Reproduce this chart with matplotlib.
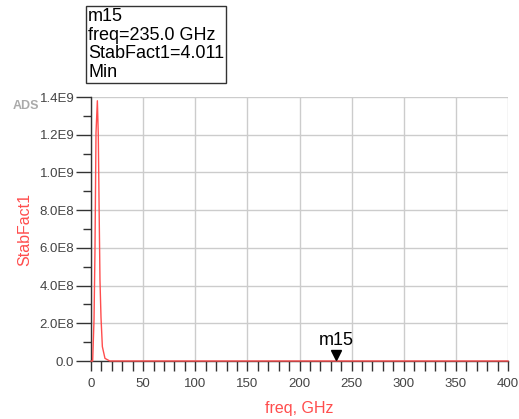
import matplotlib.pyplot as plt
import matplotlib.transforms as mtransforms
from matplotlib.ticker import MultipleLocator

# StabFact1 over frequency
freq = [0, 1.6, 2.9, 3.8, 4.8, 6.1, 7.0, 7.7, 8.6, 9.6, 10.9, 13.4, 18.0, 50, 100, 150, 200, 235, 300, 350, 400]
stab = [0, 0.0, 2.2e8, 5.8e8, 1.21e9, 1.38e9, 1.20e9, 8.5e8, 4.3e8, 2.3e8, 7.6e7, 1.4e7, 0.0,
        20, 10, 7, 5, 4.011, 4.5, 5, 5.5]

y_ticks = [0, 2e8, 4e8, 6e8, 8e8, 1.0e9, 1.2e9, 1.4e9]
y_labels = ['0.0', '2.0E8', '4.0E8', '6.0E8', '8.0E8', '1.0E9', '1.2E9', '1.4E9']
x_ticks = [0, 50, 100, 150, 200, 250, 300, 350, 400]

marker_name = 'm15'
marker_freq = 235.0
marker_val = 4.011

plt.rcParams['font.family'] = ['Liberation Sans', 'DejaVu Sans']

fig = plt.figure(figsize=(5.19, 4.19), dpi=100)
ax = fig.add_axes([91/519, 1 - 361/419, 417/519, 264/419])

ax.plot(freq, stab, color='#ff4d4d', lw=1.0, clip_on=False, zorder=3)

ax.set_xlim(0, 400)
ax.set_ylim(0, 1.4e9)
ax.set_xticks(x_ticks)
ax.set_xticklabels([str(t) for t in x_ticks])
ax.set_yticks(y_ticks)
ax.set_yticklabels(y_labels)
ax.xaxis.set_minor_locator(MultipleLocator(10))
ax.yaxis.set_minor_locator(MultipleLocator(1e8))

ax.grid(True, which='major', color='#cccccc', lw=1.0)
for s in ['top', 'right']:
    ax.spines[s].set_visible(False)
for s in ['left', 'bottom']:
    ax.spines[s].set_color('#333333')
    ax.spines[s].set_linewidth(1.0)

ax.tick_params(axis='both', which='both', direction='out', color='#333333', width=1.0,
               labelcolor='#444444', labelsize=9.5)
ax.tick_params(axis='y', which='major', length=11, pad=1)
ax.tick_params(axis='y', which='minor', length=6)
ax.tick_params(axis='x', which='major', length=7, pad=5)
ax.tick_params(axis='x', which='minor', length=7)

ax.set_ylabel('StabFact1', color='#ff4d4d', fontsize=11.5, labelpad=5)
ax.set_xlabel('freq, GHz', color='#ff4d4d', fontsize=11.5, labelpad=8)

# marker triangle and name
shift = mtransforms.ScaledTranslation(0, 6/100, fig.dpi_scale_trans)
ax.plot([marker_freq], [marker_val], marker='v', color='black', markersize=7,
        transform=ax.transData + shift, zorder=4, clip_on=False)
ax.annotate(marker_name, (marker_freq, 0), xytext=(0, 9), textcoords='offset points',
            ha='center', va='bottom', fontsize=13, color='black')

# marker readout box
fig.text(88/519, 1 - 8/419, f'{marker_name}\nfreq={marker_freq:.1f} GHz\nStabFact1={marker_val}\nMin',
         ha='left', va='top', fontsize=13, linespacing=1.12, color='black',
         bbox=dict(boxstyle='square,pad=0.12', fc='white', ec='#333333', lw=1.0))

fig.text(13/519, 1 - 106/419, 'ADS', ha='left', va='center', fontsize=9,
         color='#aaaaaa', fontweight='bold')

fig.savefig('out.png', dpi=100)
